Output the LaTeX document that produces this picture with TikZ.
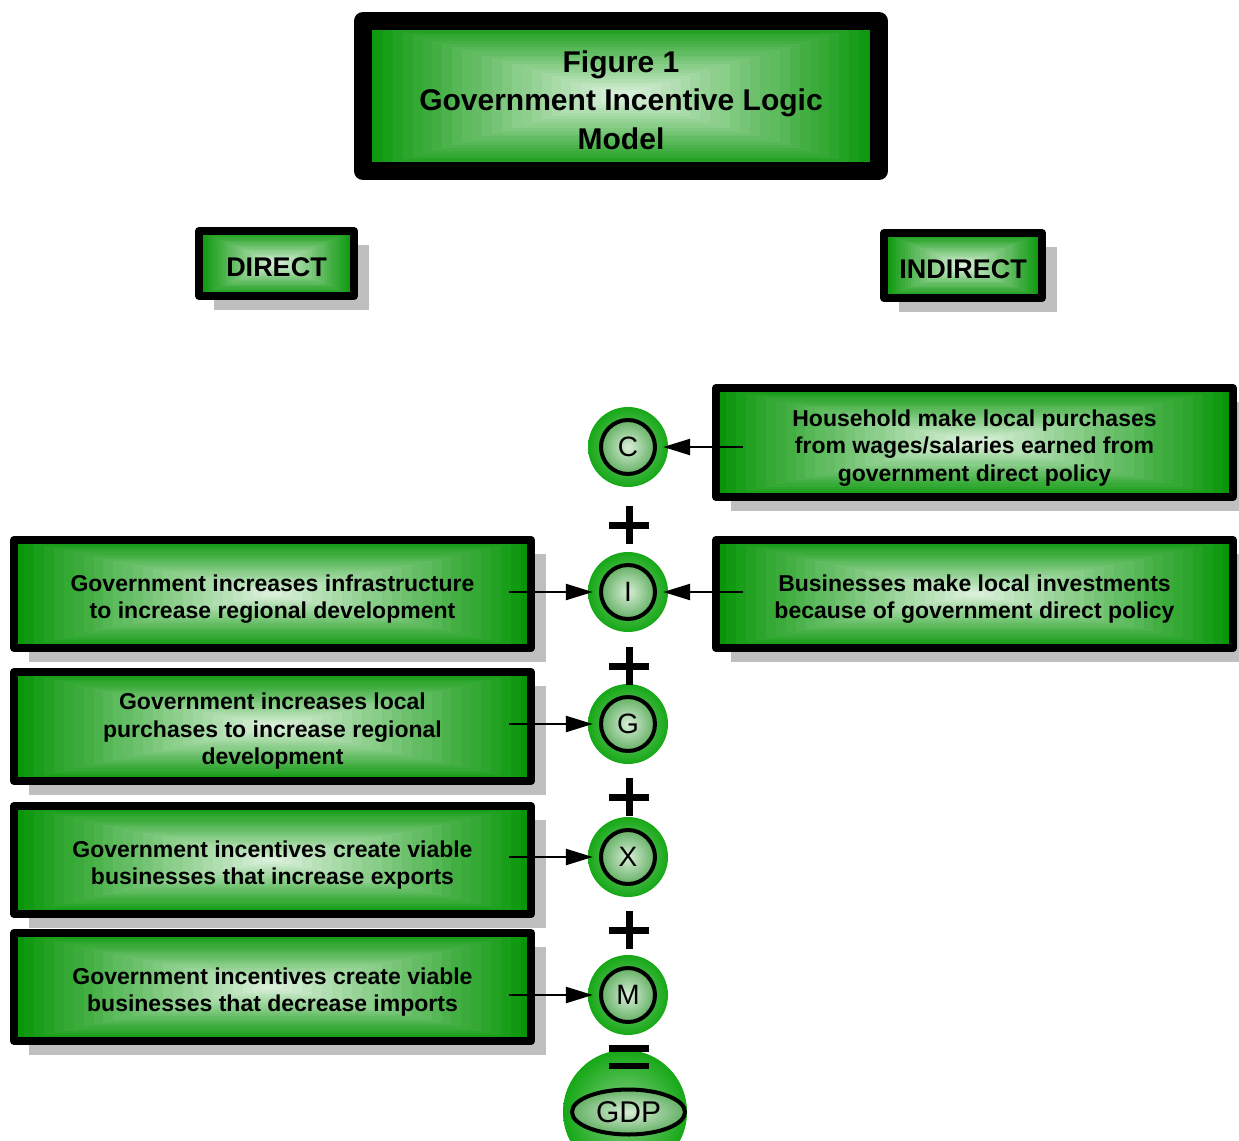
\documentclass[tikz,border=0pt]{standalone}
\usepackage{fontspec}
\setmainfont{Liberation Sans}
\usetikzlibrary{calc,shadows,arrows.meta,shapes.geometric}
\definecolor{boxgreen}{RGB}{8,150,8}
\definecolor{boxlight}{RGB}{228,244,228}
\definecolor{ringgreen}{RGB}{22,168,22}
\definecolor{ringlight}{RGB}{135,208,135}
\definecolor{discgreen}{RGB}{100,176,100}
\definecolor{disclight}{RGB}{215,238,215}
\tikzset{
  glow/.style={path picture={
    \foreach \i [evaluate=\i as \p using int(100-3.8*\i)] in {0,...,25}
      \fill[boxgreen!\p!boxlight]
        ($(path picture bounding box.south west)!\i/52!(path picture bounding box.north east)$)
        rectangle
        ($(path picture bounding box.north east)!\i/52!(path picture bounding box.south west)$);
  }},
  sink/.style={execute at begin node={\rule{0pt}{#1}}},
  frame/.style={rectangle, glow, draw=black, line width=8pt, line join=round, inner sep=0pt},
  panel/.style={frame, drop shadow={shadow xshift=15pt, shadow yshift=-14pt,
    fill=black!25, opacity=1}},
  words/.style={align=center, inner sep=0pt, font=\bfseries\fontsize{23}{27.5}\selectfont},
  headbox/.style={panel, font=\bfseries\fontsize{27}{32}\selectfont, sink=26pt},
  term/.style={circle, minimum size=80pt, inner sep=0pt, shading=radial,
    inner color=ringlight, outer color=ringgreen},
  letter/.style={circle, draw=black, line width=4pt, minimum size=54pt, inner sep=0pt,
    shading=radial, inner color=disclight, outer color=discgreen,
    font=\fontsize{28}{28}\selectfont},
  flow/.style={-{Triangle[length=27pt,width=16pt]}, line width=2.5pt, shorten >=-5pt},
  sign/.style={line width=7pt},
}

\begin{document}
\begin{tikzpicture}[x=1pt, y=-1pt]
  \clip (0,0) rectangle (1239,1140);
  % heading
  \node[frame, line width=18pt, minimum width=516pt, minimum height=150pt] (title) at (621,96) {};
  \node[words, font=\bfseries\fontsize{30}{38.5}\selectfont] (titlet) at ([yshift=-4pt]title.center)
    {Figure 1\\Government Incentive Logic\\Model};
  \node[headbox, minimum width=155pt, minimum height=65pt] (direct) at (276.5,263.5) {DIRECT};
  \node[headbox, minimum width=158pt, minimum height=65pt] (indirect) at (963,265.5) {INDIRECT};

  % indirect effects
  \node[panel, minimum width=517pt, minimum height=109pt] (R1) at (974.5,442.5) {};
  \node[words] (R1t) at ([yshift=-5.5pt]R1.center)
    {Household make local purchases\\from wages/salaries earned from\\government direct policy};
  \node[panel, minimum width=517pt, minimum height=108pt] (R2) at (974.5,594) {};
  \node[words] (R2t) at ([yshift=-5pt]R2.center)
    {Businesses make local investments\\because of government direct policy};

  % direct effects
  \node[panel, minimum width=517pt, minimum height=108pt] (L1) at (272.5,594) {};
  \node[words] (L1t) at ([yshift=-5pt]L1.center)
    {Government increases infrastructure\\to increase regional development};
  \node[panel, minimum width=517pt, minimum height=109pt] (L2) at (272.5,726.5) {};
  \node[words] (L2t) at ([yshift=-5pt]L2.center)
    {Government increases local\\purchases to increase regional\\development};
  \node[panel, minimum width=517pt, minimum height=108pt] (L3) at (272.5,860) {};
  \node[words] (L3t) at ([yshift=-5pt]L3.center)
    {Government incentives create viable\\businesses that increase exports};
  \node[panel, minimum width=517pt, minimum height=108pt] (L4) at (272.5,987) {};
  \node[words] (L4t) at ([yshift=-5pt]L4.center)
    {Government incentives create viable\\businesses that decrease imports};

  % GDP terms
  \node[term] (C) at (628,447) {};
  \node[letter] (Cl) at (C) {C};
  \node[term] (I) at (628,592) {};
  \node[letter] (Il) at (I) {I};
  \node[term] (G) at (628,724) {};
  \node[letter] (Gl) at (G) {G};
  \node[term] (X) at (628,857) {};
  \node[letter] (Xl) at (X) {X};
  \node[term] (M) at (628,995) {};
  \node[letter] (Ml) at (M) {M};
  \node[term, minimum size=124pt] (gdp) at (625,1112) {};
  \node[ellipse, draw=black, line width=4pt, minimum width=113pt, minimum height=45pt,
    inner sep=0pt, shading=radial, inner color=disclight, outer color=discgreen,
    font=\fontsize{30}{30}\selectfont] (gdpl) at (628.5,1112) {GDP};

  % operators
  \foreach \y in {525,666,797,930}
    \draw[sign] (609,\y) -- ++(40,0) (629,\y-19) -- ++(0,38);
  \draw[sign] (609,1048.5) -- ++(40,0);
  \draw[sign, line width=6pt] (609,1066) -- ++(40,0);

  % connectors
  \draw[flow] ($(R1.west |- C)+(31,0)$) -- (C);
  \draw[flow] ($(R2.west |- I)+(31,0)$) -- (I);
  \draw[flow] ($(L1.east |- I)+(-26,0)$) -- (I);
  \draw[flow] ($(L2.east |- G)+(-26,0)$) -- (G);
  \draw[flow] ($(L3.east |- X)+(-26,0)$) -- (X);
  \draw[flow] ($(L4.east |- M)+(-26,0)$) -- (M);
\end{tikzpicture}
\end{document}
